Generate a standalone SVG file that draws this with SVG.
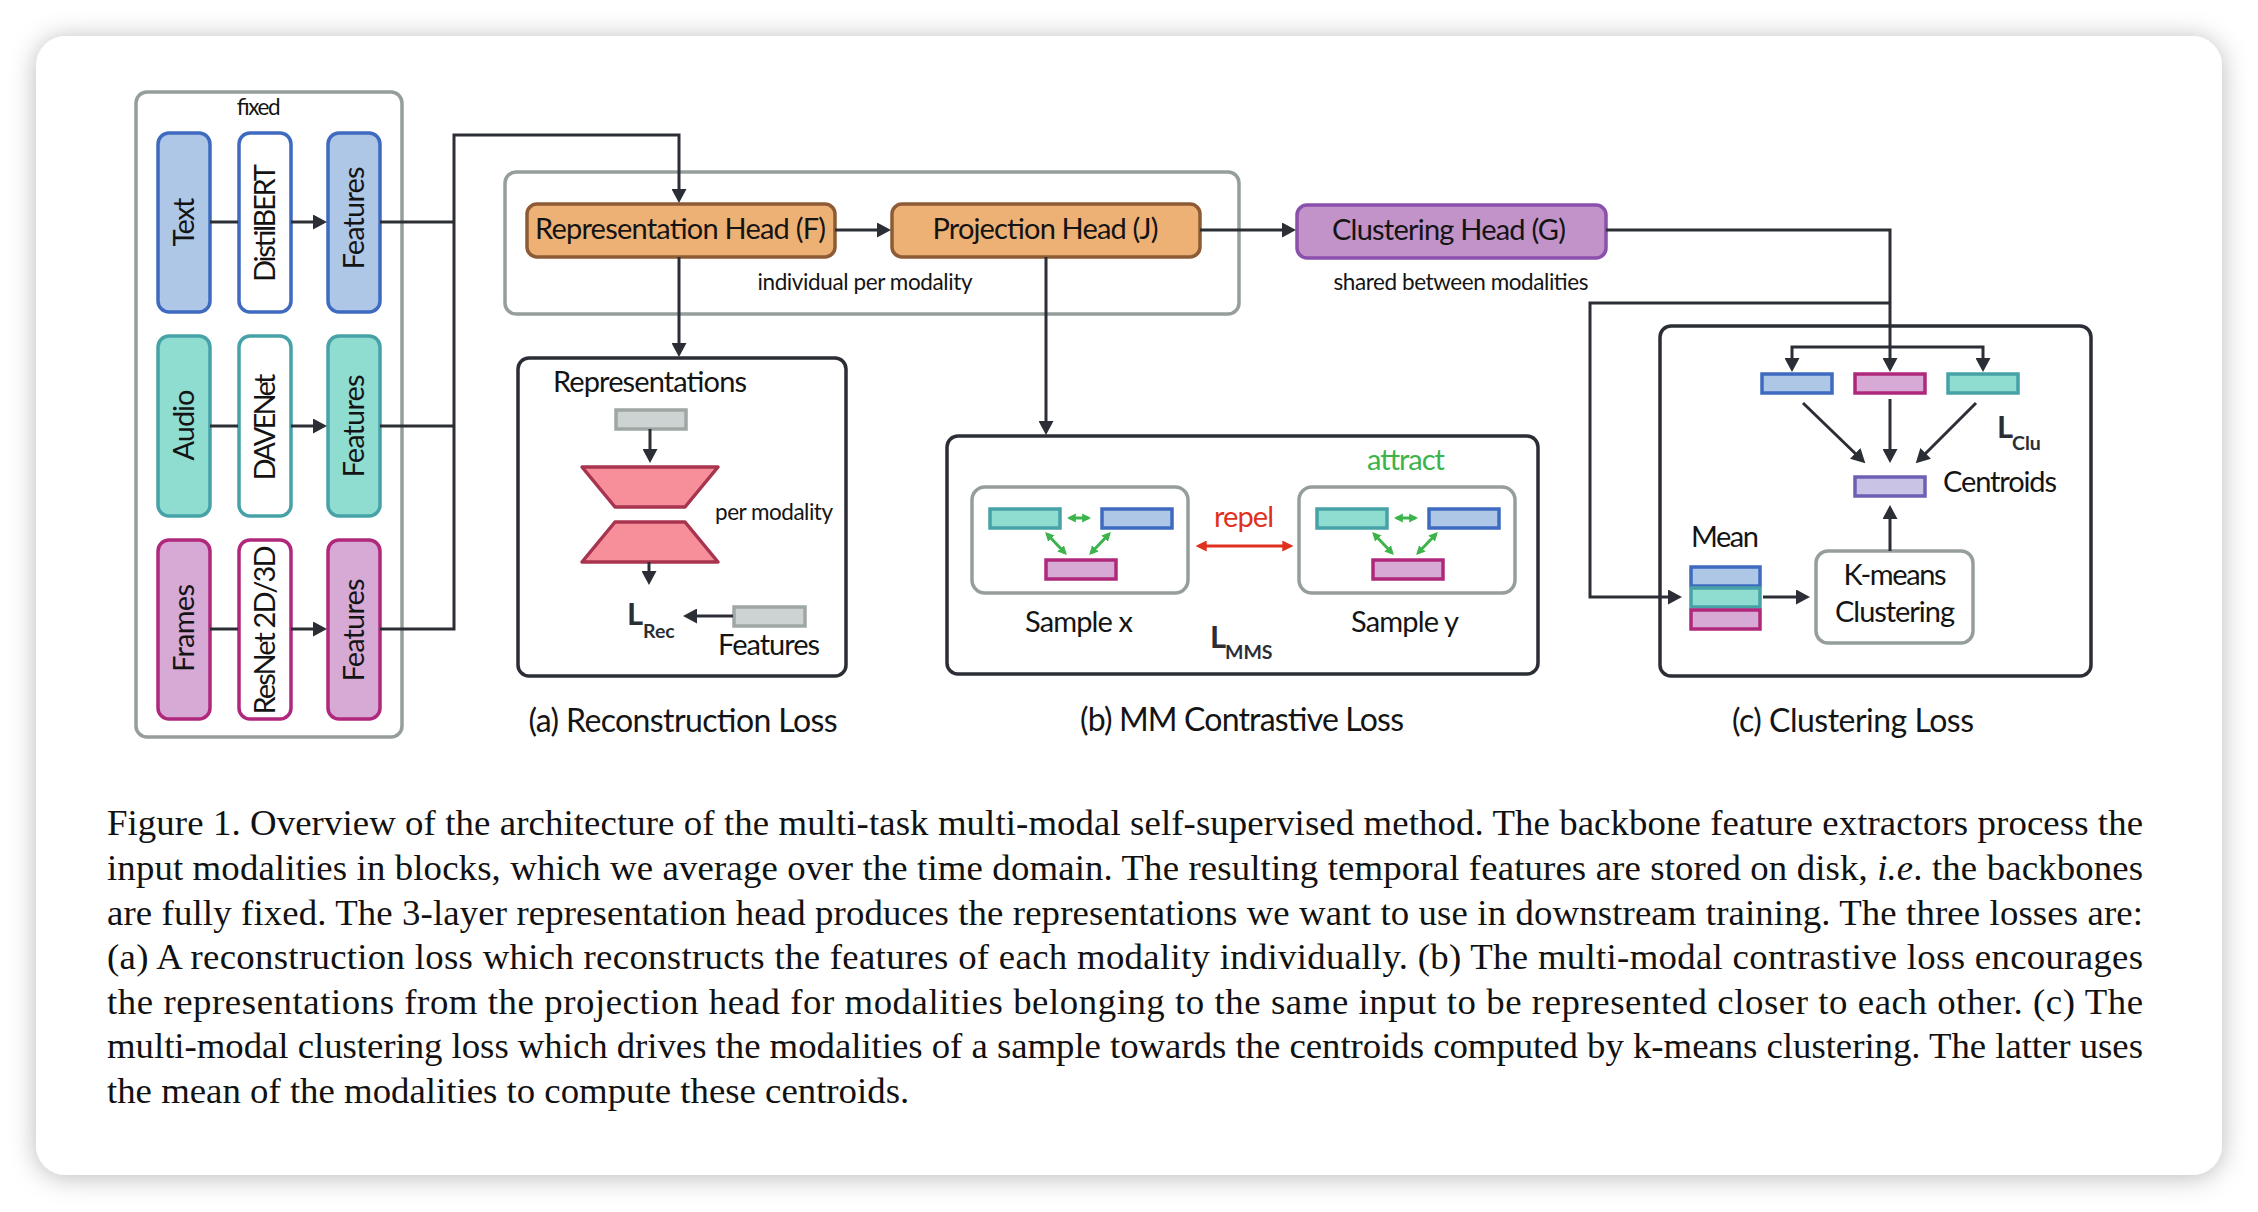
<svg xmlns="http://www.w3.org/2000/svg" width="2258" height="1212" viewBox="0 0 2258 1212">
<defs>
<style>
.l{font-family:Lato,"Open Sans","Liberation Sans",sans-serif;fill:#141414}
.b{font-size:29px}
.s{font-size:22.5px}
.t{font-size:32px}
.L{font-family:Lato,"Open Sans","Liberation Sans",sans-serif;font-weight:bold;fill:#2b2e35}
.cap{font-family:"Liberation Serif","Times New Roman",serif;font-size:36.8px;fill:#111}
.con{fill:none;stroke:#2b2e35;stroke-width:3}
.arr{marker-end:url(#ah)}
.grn{fill:none;stroke:#3cb44b;stroke-width:3;marker-start:url(#ga);marker-end:url(#ga)}
.gbox{fill:#fff;stroke:#959e9b;stroke-width:3.5}
.dbox{fill:#fff;stroke:#2b2e35;stroke-width:3.5}
.blue{fill:#aec7e7;stroke:#3e6bc0;stroke-width:3.5}
.teal{fill:#8fdcd0;stroke:#47a2a7;stroke-width:3.5}
.pink{fill:#d6aad4;stroke:#b0287c;stroke-width:3.5}
.wb{fill:#fff;stroke:#3e6bc0;stroke-width:3.5}
.wt{fill:#fff;stroke:#47a2a7;stroke-width:3.5}
.wp{fill:#fff;stroke:#b0287c;stroke-width:3.5}
.orng{fill:#eeb175;stroke:#8d5b35;stroke-width:3.5}
.purp{fill:#c193c8;stroke:#8b4fac;stroke-width:3.5}
.gray{fill:#cdd3d2;stroke:#9fa7a4;stroke-width:3.5}
.cent{fill:#c9c3e6;stroke:#6c60b5;stroke-width:3.5}
</style>
<filter id="sh" x="-5%" y="-5%" width="110%" height="110%">
<feDropShadow dx="0" dy="2" stdDeviation="13" flood-color="#000" flood-opacity="0.28"/>
</filter>
<marker id="ah" viewBox="0 0 14 15" refX="8" refY="7.5" markerWidth="14" markerHeight="15" markerUnits="userSpaceOnUse" orient="auto"><path d="M0,0 L14,7.5 L0,15 z" fill="#2b2e35"/></marker>
<marker id="ga" viewBox="0 0 10 10" refX="7" refY="5" markerWidth="9" markerHeight="10" markerUnits="userSpaceOnUse" orient="auto-start-reverse"><path d="M0,0 L10,5 L0,10 z" fill="#3cb44b"/></marker>
<marker id="ra" viewBox="0 0 10 10" refX="7" refY="5" markerWidth="11" markerHeight="11" markerUnits="userSpaceOnUse" orient="auto-start-reverse"><path d="M0,0 L10,5 L0,10 z" fill="#e0301e"/></marker>
</defs>
<rect width="2258" height="1212" fill="#fff"/>
<rect x="36" y="36" width="2186" height="1139" rx="30" fill="#fff" filter="url(#sh)"/>

<!-- containers -->
<g id="fixed-group">
<rect class="gbox" x="136" y="92" width="266" height="645" rx="11"/>
<text class="l s" x="258" y="115" text-anchor="middle" textLength="44">fixed</text>
</g>
<g id="heads-group">
<rect class="gbox" x="505" y="172" width="734" height="142" rx="11"/>
<text class="l s" x="865" y="290" text-anchor="middle" textLength="215">individual per modality</text>
</g>

<!-- left column nodes -->
<g id="text-in"><rect class="blue" x="158" y="133" width="52" height="179" rx="11"/>
<text class="l b" transform="translate(183.5,222) rotate(-90)" x="0" y="10" text-anchor="middle" textLength="49">Text</text></g>
<g id="distilbert"><rect class="wb" x="239" y="133" width="52" height="179" rx="11"/>
<text class="l b" transform="translate(264.5,223) rotate(-90)" x="0" y="10" text-anchor="middle" textLength="118">DistilBERT</text></g>
<g id="text-features"><rect class="blue" x="328" y="133" width="52" height="179" rx="11"/>
<text class="l b" transform="translate(353.5,218) rotate(-90)" x="0" y="10" text-anchor="middle" textLength="103">Features</text></g>

<g id="audio-in"><rect class="teal" x="158" y="336" width="52" height="180" rx="11"/>
<text class="l b" transform="translate(183.5,425) rotate(-90)" x="0" y="10" text-anchor="middle" textLength="71">Audio</text></g>
<g id="davenet"><rect class="wt" x="239" y="336" width="52" height="180" rx="11"/>
<text class="l b" transform="translate(264.5,427) rotate(-90)" x="0" y="10" text-anchor="middle" textLength="107">DAVENet</text></g>
<g id="audio-features"><rect class="teal" x="328" y="336" width="52" height="180" rx="11"/>
<text class="l b" transform="translate(353.5,426) rotate(-90)" x="0" y="10" text-anchor="middle" textLength="103">Features</text></g>

<g id="frames-in"><rect class="pink" x="158" y="540" width="52" height="179" rx="11"/>
<text class="l b" transform="translate(183.5,628) rotate(-90)" x="0" y="10" text-anchor="middle" textLength="88">Frames</text></g>
<g id="resnet"><rect class="wp" x="239" y="540" width="52" height="179" rx="11"/>
<text class="l b" transform="translate(264.5,630) rotate(-90)" x="0" y="10" text-anchor="middle" textLength="169">ResNet 2D/3D</text></g>
<g id="frames-features"><rect class="pink" x="328" y="540" width="52" height="179" rx="11"/>
<text class="l b" transform="translate(353.5,630) rotate(-90)" x="0" y="10" text-anchor="middle" textLength="103">Features</text></g>

<!-- heads -->
<g id="rep-head"><rect class="orng" x="527" y="204" width="308" height="53" rx="10"/>
<text class="l b" x="680.5" y="239" text-anchor="middle" textLength="291">Representation Head (F)</text></g>
<g id="proj-head"><rect class="orng" x="892" y="204" width="308" height="53" rx="10"/>
<text class="l b" x="1045.5" y="239" text-anchor="middle" textLength="226">Projection Head (J)</text></g>
<g id="clu-head"><rect class="purp" x="1297" y="205" width="309" height="53" rx="10"/>
<text class="l b" x="1449" y="240" text-anchor="middle" textLength="234">Clustering Head (G)</text>
<text class="l s" x="1461" y="290" text-anchor="middle" textLength="255">shared between modalities</text></g>

<!-- (a) reconstruction -->
<g id="recon-loss">
<rect class="dbox" x="518" y="358" width="328" height="318" rx="11"/>
<text class="l b" x="650" y="392" text-anchor="middle" textLength="194">Representations</text>
<rect class="gray" x="616" y="410" width="70" height="19"/>
<polygon points="582,467 718,467 685,507 615,507" fill="#f68f9a" stroke="#a8344f" stroke-width="3.5" stroke-linejoin="round"/>
<polygon points="615,522 685,522 718,562 582,562" fill="#f68f9a" stroke="#a8344f" stroke-width="3.5" stroke-linejoin="round"/>
<text class="l s" x="715" y="520" textLength="118">per modality</text>
<text class="L" x="627" y="625" font-size="31">L</text>
<text class="L" x="643" y="638" font-size="19.5">Rec</text>
<rect class="gray" x="734" y="607" width="71" height="19"/>
<text class="l b" x="718" y="655" textLength="102">Features</text>
<text class="l t" x="683" y="732" text-anchor="middle" textLength="309">(a) Reconstruction Loss</text>
</g>

<!-- (b) MM contrastive -->
<g id="mm-loss">
<rect class="dbox" x="947" y="436" width="591" height="238" rx="11"/>
<rect class="gbox" x="972" y="487" width="216" height="106" rx="13"/>
<rect class="teal" x="990" y="509" width="70" height="19"/>
<rect class="blue" x="1102" y="509" width="70" height="19"/>
<rect class="pink" x="1046" y="560" width="70" height="19"/>
<line class="grn" x1="1069.5" y1="518" x2="1088.5" y2="518"/>
<line class="grn" x1="1047" y1="534" x2="1065" y2="553"/>
<line class="grn" x1="1109" y1="534" x2="1091" y2="553"/>
<rect class="gbox" x="1299" y="487" width="216" height="106" rx="13"/>
<rect class="teal" x="1317" y="509" width="70" height="19"/>
<rect class="blue" x="1429" y="509" width="70" height="19"/>
<rect class="pink" x="1373" y="560" width="70" height="19"/>
<line class="grn" x1="1396.5" y1="518" x2="1415.5" y2="518"/>
<line class="grn" x1="1374" y1="534" x2="1392" y2="553"/>
<line class="grn" x1="1436" y1="534" x2="1418" y2="553"/>
<line x1="1199" y1="546" x2="1290" y2="546" stroke="#e0301e" stroke-width="3" marker-start="url(#ra)" marker-end="url(#ra)"/>
<text class="l" x="1244" y="527" font-size="29" style="fill:#e0301e" text-anchor="middle" textLength="60">repel</text>
<text class="l" x="1406" y="470" font-size="29" style="fill:#3cb44b" text-anchor="middle" textLength="78">attract</text>
<text class="l b" x="1079" y="632" text-anchor="middle" textLength="108">Sample x</text>
<text class="l b" x="1405" y="632" text-anchor="middle" textLength="108">Sample y</text>
<text class="L" x="1210" y="648" font-size="31">L</text>
<text class="L" x="1225" y="659" font-size="19.5">MMS</text>
<text class="l t" x="1242" y="731" text-anchor="middle" textLength="324">(b) MM Contrastive Loss</text>
</g>

<!-- (c) clustering -->
<g id="clu-loss">
<rect class="dbox" x="1660" y="326" width="431" height="350" rx="11"/>
<rect class="blue" x="1762" y="374" width="70" height="19"/>
<rect class="pink" x="1855" y="374" width="70" height="19"/>
<rect class="teal" x="1948" y="374" width="70" height="19"/>
<rect class="cent" x="1855" y="477" width="70" height="19"/>
<text class="l b" x="1943" y="492" textLength="114">Centroids</text>
<text class="L" x="1997" y="438" font-size="31">L</text>
<text class="L" x="2012" y="450" font-size="19.5">Clu</text>
<text class="l b" x="1691" y="547" textLength="68">Mean</text>
<rect class="blue" x="1691" y="567" width="69" height="19"/>
<rect class="teal" x="1691" y="588" width="69" height="19"/>
<rect class="pink" x="1691" y="610" width="69" height="19"/>
<rect class="gbox" x="1816" y="551" width="157" height="92" rx="12"/>
<text class="l b" x="1895" y="585" text-anchor="middle" textLength="103">K-means</text>
<text class="l b" x="1895" y="622" text-anchor="middle" textLength="120">Clustering</text>
<text class="l t" x="1853" y="732" text-anchor="middle" textLength="242">(c) Clustering Loss</text>
</g>

<!-- connectors -->
<g id="connectors">
<line class="con" x1="210" y1="222" x2="238" y2="222"/>
<line class="con arr" x1="291" y1="222" x2="321" y2="222"/>
<line class="con" x1="210" y1="426" x2="238" y2="426"/>
<line class="con arr" x1="291" y1="426" x2="321" y2="426"/>
<line class="con" x1="210" y1="629" x2="238" y2="629"/>
<line class="con arr" x1="291" y1="629" x2="321" y2="629"/>
<line class="con" x1="380" y1="222" x2="454" y2="222"/>
<line class="con" x1="380" y1="426" x2="454" y2="426"/>
<path class="con arr" d="M380,629 H454 V135 H679 V197"/>
<line class="con arr" x1="835" y1="230" x2="885" y2="230"/>
<line class="con arr" x1="1200" y1="230" x2="1290" y2="230"/>
<line class="con arr" x1="679" y1="257" x2="679" y2="351"/>
<line class="con arr" x1="1046" y1="257" x2="1046" y2="429"/>
<path class="con arr" d="M1606,230 H1890 V366"/>
<path class="con arr" d="M1890,347 H1792 V366"/>
<path class="con arr" d="M1890,347 H1983 V366"/>
<path class="con arr" d="M1890,303 H1590 V597 H1676"/>
<line class="con arr" x1="1763" y1="597" x2="1804" y2="597"/>
<line class="con arr" x1="1890" y1="551" x2="1890" y2="511"/>
<line class="con arr" x1="1803" y1="403" x2="1861" y2="459"/>
<line class="con arr" x1="1890" y1="399" x2="1890" y2="457"/>
<line class="con arr" x1="1976" y1="403" x2="1920" y2="459"/>
<line class="con arr" x1="650" y1="429" x2="650" y2="457"/>
<line class="con arr" x1="649" y1="562" x2="649" y2="579"/>
<line class="con arr" x1="733" y1="616" x2="689" y2="616"/>
</g>

<!-- caption -->
<g id="caption">
<text class="cap" x="107" y="835" textLength="2036">Figure 1. Overview of the architecture of the multi-task multi-modal self-supervised method. The backbone feature extractors process the</text>
<text class="cap" x="107" y="880" textLength="2036">input modalities in blocks, which we average over the time domain. The resulting temporal features are stored on disk, <tspan font-style="italic">i.e</tspan>. the backbones</text>
<text class="cap" x="107" y="925" textLength="2036">are fully fixed. The 3-layer representation head produces the representations we want to use in downstream training. The three losses are:</text>
<text class="cap" x="107" y="969" textLength="2036">(a) A reconstruction loss which reconstructs the features of each modality individually.  (b) The multi-modal contrastive loss encourages</text>
<text class="cap" x="107" y="1014" textLength="2036">the representations from the projection head for modalities belonging to the same input to be represented closer to each other.  (c) The</text>
<text class="cap" x="107" y="1058" textLength="2036">multi-modal clustering loss which drives the modalities of a sample towards the centroids computed by k-means clustering. The latter uses</text>
<text class="cap" x="107" y="1103">the mean of the modalities to compute these centroids.</text>
</g>
</svg>
